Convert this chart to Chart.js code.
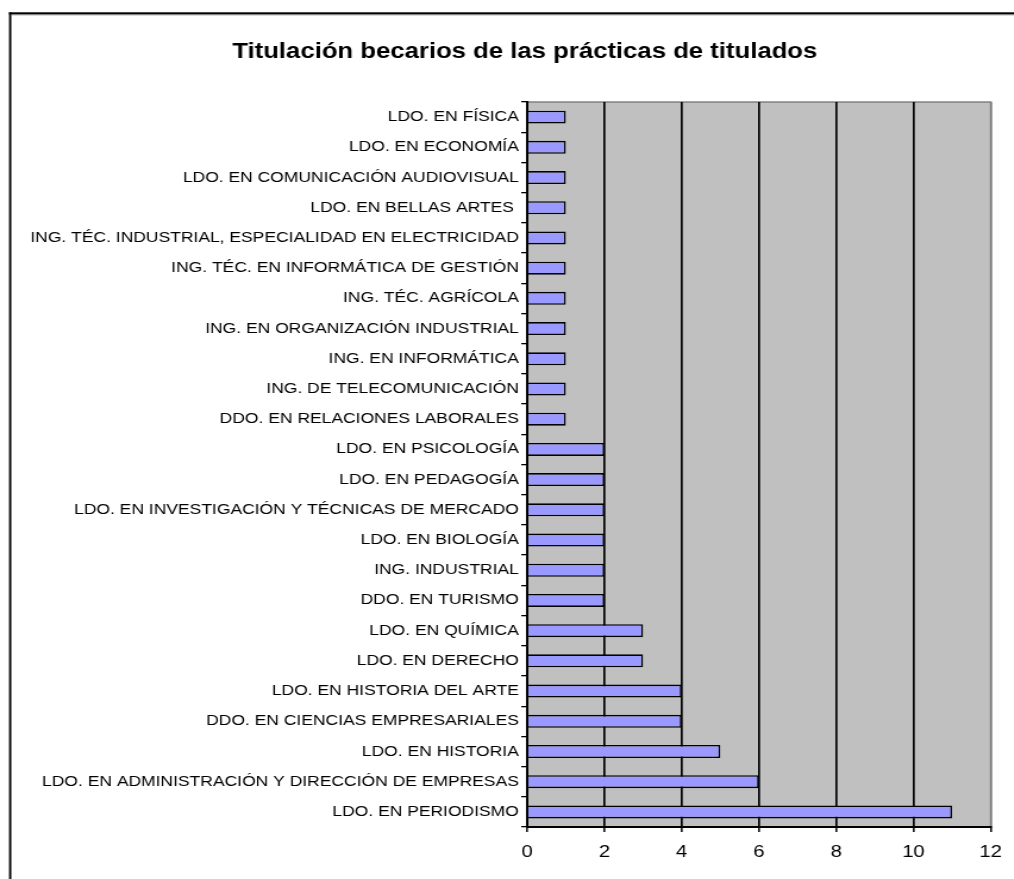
<!DOCTYPE html>
<html>
<head>
<meta charset="utf-8">
<script src="https://cdn.jsdelivr.net/npm/chart.js@4.4.1/dist/chart.umd.min.js"></script>
<style>
  html, body { margin: 0; padding: 0; background: #fff; overflow: hidden; width: 1014px; height: 879px; }
  #wrap { position: absolute; left: 0; top: 0; width: 852px; height: 879px; transform: scaleX(1.19); transform-origin: 0 0; }
</style>
</head>
<body>
<div id="wrap"><canvas id="c"></canvas></div>
<script>
const titleText = 'Titulación becarios de las prácticas de titulados';
const categories = [
  'LDO. EN FÍSICA',
  'LDO. EN ECONOMÍA',
  'LDO. EN COMUNICACIÓN AUDIOVISUAL',
  'LDO. EN BELLAS ARTES ',
  'ING. TÉC. INDUSTRIAL, ESPECIALIDAD EN ELECTRICIDAD',
  'ING. TÉC. EN INFORMÁTICA DE GESTIÓN',
  'ING. TÉC. AGRÍCOLA',
  'ING. EN ORGANIZACIÓN INDUSTRIAL',
  'ING. EN INFORMÁTICA',
  'ING. DE TELECOMUNICACIÓN',
  'DDO. EN RELACIONES LABORALES',
  'LDO. EN PSICOLOGÍA',
  'LDO. EN PEDAGOGÍA',
  'LDO. EN INVESTIGACIÓN Y TÉCNICAS DE MERCADO',
  'LDO. EN BIOLOGÍA',
  'ING. INDUSTRIAL',
  'DDO. EN TURISMO',
  'LDO. EN QUÍMICA',
  'LDO. EN DERECHO',
  'LDO. EN HISTORIA DEL ARTE',
  'DDO. EN CIENCIAS EMPRESARIALES',
  'LDO. EN HISTORIA',
  'LDO. EN ADMINISTRACIÓN Y DIRECCIÓN DE EMPRESAS',
  'LDO. EN PERIODISMO'
];
const values = [1, 1, 1, 1, 1, 1, 1, 1, 1, 1, 1, 2, 2, 2, 2, 2, 2, 3, 3, 4, 4, 5, 6, 11];
const xTicks = [0, 2, 4, 6, 8, 10, 12];

const FONT = '"Liberation Sans", Arial, Helvetica, sans-serif';

const bgPlugin = {
  id: 'bg',
  afterLayout(chart) {
    // let long category labels extend past the layout padding (no clipping)
    chart.scales.y.left = 0;
  },
  beforeDraw(chart) {
    const ctx = chart.ctx, a = chart.chartArea;
    ctx.save();
    ctx.fillStyle = '#fff';
    ctx.fillRect(0, 0, chart.width, chart.height);
    // outer frame (top and left edges visible)
    ctx.fillStyle = '#000';
    ctx.fillRect(7.6, 12.3, chart.width, 2.2);
    ctx.fillRect(7.6, 12.3, 1.9, chart.height);
    ctx.fillStyle = '#888';
    ctx.fillRect(9.5, 14.5, chart.width, 0.8);
    // plot area
    ctx.fillStyle = '#C0C0C0';
    ctx.fillRect(a.left, a.top, a.right - a.left, a.bottom - a.top);
    ctx.strokeStyle = '#808080';
    ctx.lineWidth = 1.5;
    ctx.strokeRect(a.left, a.top, a.right - a.left, a.bottom - a.top);
    ctx.restore();
  }
};

new Chart(document.getElementById('c'), {
  type: 'bar',
  data: {
    labels: categories,
    datasets: [{
      data: values,
      backgroundColor: '#9999FF',
      borderColor: '#000',
      borderWidth: 1.6,
      barPercentage: 0.43,
      categoryPercentage: 1
    }]
  },
  options: {
    indexAxis: 'y',
    responsive: true,
    maintainAspectRatio: false,
    animation: false,
    devicePixelRatio: 1,
    layout: { padding: { left: 46, right: 16, top: 0, bottom: 0 } },
    plugins: {
      legend: { display: false },
      tooltip: { enabled: false },
      title: {
        display: true,
        text: titleText,
        color: '#000',
        font: { family: FONT, size: 21.6, weight: 'bold' },
        padding: { top: 39.5, bottom: 36.6 }
      }
    },
    scales: {
      x: {
        min: 0,
        max: 12,
        afterBuildTicks: s => { s.ticks = xTicks.map(v => ({ value: v })); },
        afterFit: s => { s.height = 52; },
        ticks: { color: '#000', font: { family: FONT, size: 17 }, padding: 10, maxRotation: 0 },
        grid: {
          color: c => (c.tick && c.tick.value === 12) ? '#808080' : '#000',
          lineWidth: 1.7,
          tickLength: 5,
          tickColor: '#000',
          tickWidth: 1.5
        },
        border: { color: '#000', width: 2 }
      },
      y: {
        afterFit: s => { s.width = 397; },
        ticks: { color: '#000', font: { family: FONT, size: 14.7 }, padding: 2, autoSkip: false },
        grid: { drawOnChartArea: false, offset: true, tickLength: 5, color: '#000', lineWidth: 1.3 },
        border: { color: '#000', width: 2 }
      }
    }
  },
  plugins: [bgPlugin]
});
</script>
</body>
</html>
